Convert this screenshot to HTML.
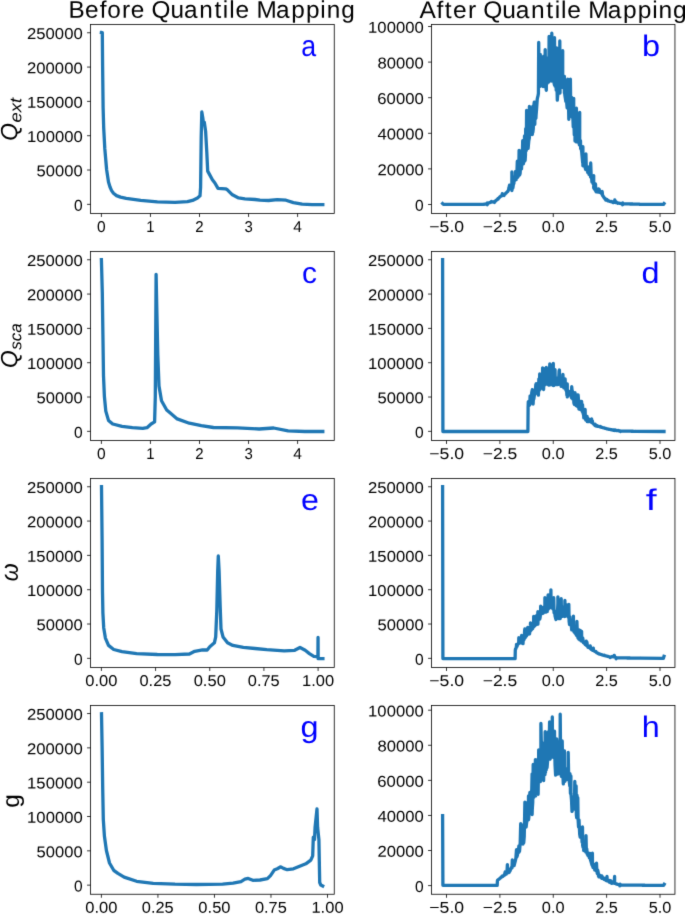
<!DOCTYPE html>
<html><head><meta charset="utf-8"><title>Quantile Mapping</title>
<style>
html,body{margin:0;padding:0;background:#fff;}
body{width:685px;height:914px;overflow:hidden;}
svg{display:block;font-family:"Liberation Sans", sans-serif;will-change:transform;text-rendering:geometricPrecision;}
</style></head>
<body>
<svg width="685" height="914" viewBox="0 0 685 914">
<defs><filter id="soft" filterUnits="userSpaceOnUse" x="0" y="0" width="685" height="914" color-interpolation-filters="sRGB">
<feConvolveMatrix order="3" kernelMatrix="0.0114 0.084 0.0114 0.084 0.619 0.084 0.0114 0.084 0.0114" edgeMode="duplicate"/>
</filter></defs>
<g filter="url(#soft)">
<rect width="685" height="914" fill="#fff"/>
<text transform="translate(0 17.65) scale(1.0129 1) matrix(1 0.0006 0 1 0 0)" font-size="24.02" fill="#000" x="67.66 83.87 98.45 105.78 120.51 129.11 142.74 149.58 168.33 181.69 196.77 211.66 220.02 226.32 232.51 246.14 253.17 272.4 287.58 302.01 316.27 322.66 336.89">Before Quantile Mapping</text>
<text transform="translate(0 17.65) scale(1.0214 1) matrix(1 0.0006 0 1 0 0)" font-size="24.02" fill="#000" x="410.81 427.45 435.49 443.61 458.24 466.45 473.15 491.78 505.02 519.98 534.77 543.07 549.32 555.42 568.99 575.88 594.98 610.03 624.34 638.51 644.82 658.94">After Quantile Mapping</text>
<polyline points="101.4,32.5 102.3,32.6 102.6,65.6 103.1,107.2 103.7,128 104.8,148.7 106.6,169.5 108.5,182 110,187 111.6,190.6 113.5,193.3 116.5,195.6 120.5,197.1 126.2,198.3 140.7,200.3 157.4,201.8 175,202.3 187.5,201.7 192.5,200.4 197.5,197.9 200,195.8 200.6,187.3 201.2,137.4 201.8,112 202.7,117.2 203.5,123.1 204.3,122.2 205.6,131.2 206.8,152.4 207.7,171.1 212.4,179.8 214.9,183 218,188.3 225.5,188.8 227.4,189.8 232.4,194.8 238.6,197.9 244.9,198.8 255,199.5 259.9,200.2 268.6,200.5 277.3,199.6 286,200.2 293.4,202.6 302.1,204.2 312,204.6 322.8,204.6" fill="none" stroke="#1f77b4" stroke-width="3.3" stroke-linejoin="round" stroke-linecap="square"/>
<path d="M87.07 204.35H90.57M87.07 170.03H90.57M87.07 135.71H90.57M87.07 101.39H90.57M87.07 67.07H90.57M87.07 32.75H90.57M101.4 213.45V216.95M150.45 213.45V216.95M199.5 213.45V216.95M248.55 213.45V216.95M297.6 213.45V216.95" stroke="#000" stroke-width="0.8" fill="none"/>
<rect x="90.57" y="24.5" width="243.68" height="188.95" fill="none" stroke="#000" stroke-width="0.8"/>
<text transform="translate(74.05 210.65) scale(0.9904 1) matrix(1 0.0006 0 1 0 0)" font-size="15.70" fill="#000">0</text>
<text transform="translate(36.62 176.33) scale(1.0563 1) matrix(1 0.0006 0 1 0 0)" font-size="15.70" fill="#000">50000</text>
<text transform="translate(27.11 142.01) scale(1.0618 1) matrix(1 0.0006 0 1 0 0)" font-size="15.70" fill="#000">100000</text>
<text transform="translate(27.11 107.69) scale(1.0618 1) matrix(1 0.0006 0 1 0 0)" font-size="15.70" fill="#000">150000</text>
<text transform="translate(27 73.37) scale(1.0639 1) matrix(1 0.0006 0 1 0 0)" font-size="15.70" fill="#000">200000</text>
<text transform="translate(27 39.05) scale(1.0639 1) matrix(1 0.0006 0 1 0 0)" font-size="15.70" fill="#000">250000</text>
<text transform="translate(97.07 231.9) scale(0.9904 1) matrix(1 0.0006 0 1 0 0)" font-size="15.70" fill="#000">0</text>
<text transform="translate(146.25 231.9) scale(0.9459 1) matrix(1 0.0006 0 1 0 0)" font-size="15.70" fill="#000">1</text>
<text transform="translate(195.13 231.9) scale(0.9546 1) matrix(1 0.0006 0 1 0 0)" font-size="15.70" fill="#000">2</text>
<text transform="translate(244.41 231.9) scale(0.9511 1) matrix(1 0.0006 0 1 0 0)" font-size="15.70" fill="#000">3</text>
<text transform="translate(293.27 231.9) scale(0.9905 1) matrix(1 0.0006 0 1 0 0)" font-size="15.70" fill="#000">4</text>
<text transform="translate(301.29 55.9) scale(0.8977 1) matrix(1 0.0006 0 1 0 0)" font-size="29.85" fill="#0000ff">a</text>
<polyline points="442.6,203.6 443.4,204.4 484,204.4 484,204.2 484.43,204.15 484.84,204.09 485.35,204.03 485.9,203.96 486.43,203.9 486.84,203.84 487.2,204.7 487.21,202.9 487.5,203.66 487.96,203.44 488.66,203.11 489.18,202.86 489.58,202.67 490.06,202.44 490.48,202.24 491.13,201.93 491.4,202.1 491.41,201.5 491.71,201.81 492.22,201.83 492.62,201.84 493.08,201.86 493.6,201.87 494.18,201.89 494.4,202.5 494.41,201.3 494.67,201.67 495.28,201.14 495.86,200.65 496.53,200.07 497.01,199.65 497.43,199.29 498,199.1 498.01,198.5 498.07,198.73 498.62,198.2 499.22,197.63 499.79,196.92 500.28,196.79 500.86,196.08 501.4,195.86 502.1,195.13 502.3,193.7 502.31,195.5 502.7,195.26 503.32,194.83 504.03,194.98 504.1,195.5 504.11,194.5 504.51,194.59 505.11,193.99 505.65,193.45 506.08,193.02 506.71,192.39 507.18,191.93 507.7,191.3 507.71,191.5 507.85,191.28 508.39,190.33 509.06,187.48 509.5,185.2 509.51,189 509.73,188.78 510.26,187.84 510.93,186.88 511.37,189.22 511.83,189.4 511.9,172 511.91,190.5 512.37,182.35 512.85,188.03 513.37,184.42 513.94,183.22 514,177 514.55,180.41 515.14,180.3 515.54,171.39 516.11,179.6 516.19,176.65 516.84,175.22 517.3,161.2 517.35,177.49 517.95,176.9 518.35,175.46 518.79,171.76 519.1,150.3 519.19,175.47 519.63,174.27 519.71,174.8 520.13,173.21 520.81,161.86 521,151 521.24,168.39 521.51,168.8 521.74,163.92 522.17,162.29 522.7,140.7 522.88,158.11 523.42,163.76 523.84,158.72 524.32,156.89 524.5,136 524.75,161.14 525.11,160.4 525.45,155.18 525.7,128.7 525.89,145.05 526.28,150.52 526.6,110.3 526.99,118.79 527.6,147.6 528.11,145.99 528.11,148.3 528.75,141 529.39,137.7 529.4,106.5 529.85,135.24 530.56,114.09 531.21,131.62 531.84,133.27 532.31,134.5 532.4,131.66 532.7,106.5 532.79,132.42 533.27,128.89 533.88,104.96 534.3,102.1 534.41,120.27 534.81,124.3 535.12,102.41 535.63,118.62 535.91,118.2 536.09,114.98 536.54,109.5 537.22,99.36 537.6,97.2 537.77,97.08 538.11,95.2 538.42,93.37 538.7,42.5 539.02,81.27 539.66,64.47 540.21,86.31 540.3,54.5 540.85,80.29 540.91,85.4 541.5,78.27 542.02,78.86 542.71,80.77 543.11,86.5 543.15,85.44 543.59,80.09 543.6,56.2 544.24,86.27 544.9,79.37 545.2,49.6 545.5,82.23 546.07,88.85 546.31,90.3 546.46,58 546.9,58.9 547.05,83.52 547.75,75.8 548.42,74.35 548.51,82.1 548.88,77.2 549.1,36.5 549.36,79.02 549.94,76.22 550.46,79.81 551.14,72.14 551.31,81 551.68,74.24 551.8,33.2 552.36,69.74 553.05,76.17 553.61,65.96 554,77.57 554.01,82.6 554.45,84.97 554.5,37.6 555.1,86.35 555.64,62.4 556.21,90.34 556.7,48 556.76,77.97 557.31,100.1 557.41,98.4 557.98,92.58 558.45,86.82 559.01,74.59 559.64,81.93 559.8,40.9 560.01,93 560.17,69.61 560.72,85.47 561.34,77.89 561.9,84.28 562.59,66.67 562.7,50.7 562.71,87.6 563.27,82.32 563.74,81.23 564.4,76.4 564.41,93 564.44,89.69 564.87,95.14 565.4,98.57 565.86,101.37 566.47,100.03 567.15,107.88 567.7,79.2 567.77,107.54 568.2,85.8 568.81,119.3 568.91,117.03 569.61,109.68 570.15,108.68 570.4,79.2 570.81,116.19 571.34,114.59 571.5,97.2 571.84,115.75 572.01,117.1 572.33,115.72 572.72,113.11 573.25,126.95 573.7,98.3 573.74,115.72 574.3,134.91 575.01,115.12 575.01,141.1 575.71,140.75 576.18,141.89 576.4,108.2 576.83,140.34 577.25,134.51 577.94,136.73 578.41,142.37 579.1,139.85 579.31,144.7 579.7,112.5 579.71,145.25 580.12,143.73 580.5,140.7 580.64,148.62 581.34,149.54 581.71,151.9 581.99,155.03 582.66,162.69 582.9,146.7 582.91,165.8 583.33,161.11 583.82,164.56 584.51,165.9 584.94,166.37 585.4,168.76 585.84,169.64 585.9,153.9 586.29,168.01 586.78,168.18 587.26,166.74 587.7,171.1 587.71,172.4 588.1,171.64 588.49,171.37 589.05,174.4 589.59,173.03 590.01,166.07 590.54,176.89 590.7,163 591.2,176.97 591.75,179.22 591.91,182 592.46,181.45 593.12,183.8 593.7,175.6 593.71,188 593.72,185.12 594.22,188.65 594.65,189.32 595.28,189.95 595.5,184 595.71,190.98 596.11,191.7 596.38,190.38 596.98,191.19 597.45,191.68 597.98,191.95 598.5,188.8 598.52,192.07 599.22,189.44 599.78,192.44 600.49,192.4 600.91,192.9 600.99,193.04 601.5,192.92 602.05,194.46 602.1,191.3 602.6,195.46 603.08,196.13 603.59,196.94 603.9,197.3 603.99,197.52 604.45,198 605.01,198.88 605.61,199.12 605.71,200.1 606.28,200.17 606.78,199.38 607.21,200.43 607.81,200.79 608.1,200.3 608.47,200.88 609.06,200.85 609.71,201.4 610.27,201.41 610.93,201.7 611.59,201.79 611.7,201.5 612.27,202.08 612.88,202.31 613.01,202.5 613.28,202.45 613.78,202.48 614.44,202.23 614.8,199.9 615.04,201.45 615.65,202.42 616.03,201.71 616.66,202.61 617.23,202.68 617.63,202.93 617.8,203.3 618.1,203.08 618.57,203.16 619.03,203.24 619.73,203.36 620.24,203.45 620.85,203.55 621.44,203.65 621.85,203.72 622.32,203.8 622.6,204.7 622.61,203 622.81,203.85 623.2,203.86 623.67,203.87 624.28,203.88 624.77,203.89 625.3,203.9 625.73,203.9 626.18,203.91 626.87,203.92 627.41,203.93 628.11,203.95 628.59,203.95 629.28,203.97 629.86,203.98 630.42,203.98 630.85,203.99 631.4,204 632.02,204.01 632.7,204.02 633.09,204.03 633.64,204.04 634.12,204.05 634.62,204.06 635.28,204.07 635.92,204.08 636.34,204.09 636.96,204.1 637.44,204.11 637.96,204.11 638.54,204.12 639.06,204.13 639.46,204.14 640,204.4 663.4,204.4 664,203.6" fill="none" stroke="#1f77b4" stroke-width="3.3" stroke-linejoin="round" stroke-linecap="square"/>
<path d="M428.07 204.5H431.57M428.07 168.9H431.57M428.07 133.3H431.57M428.07 97.7H431.57M428.07 62.1H431.57M428.07 26.5H431.57M446.5 213.45V216.95M499.88 213.45V216.95M553.25 213.45V216.95M606.62 213.45V216.95M660 213.45V216.95" stroke="#000" stroke-width="0.8" fill="none"/>
<rect x="431.57" y="24.5" width="243.38" height="188.95" fill="none" stroke="#000" stroke-width="0.8"/>
<text transform="translate(415.05 210.8) scale(0.9904 1) matrix(1 0.0006 0 1 0 0)" font-size="15.70" fill="#000">0</text>
<text transform="translate(377.39 175.2) scale(1.0617 1) matrix(1 0.0006 0 1 0 0)" font-size="15.70" fill="#000">20000</text>
<text transform="translate(377.49 139.6) scale(1.0595 1) matrix(1 0.0006 0 1 0 0)" font-size="15.70" fill="#000">40000</text>
<text transform="translate(377.33 104) scale(1.0631 1) matrix(1 0.0006 0 1 0 0)" font-size="15.70" fill="#000">60000</text>
<text transform="translate(377.43 68.4) scale(1.0609 1) matrix(1 0.0006 0 1 0 0)" font-size="15.70" fill="#000">80000</text>
<text transform="translate(368.11 32.8) scale(1.0618 1) matrix(1 0.0006 0 1 0 0)" font-size="15.70" fill="#000">100000</text>
<text transform="translate(429.28 231.9) scale(1.1239 1) matrix(1 0.0006 0 1 0 0)" font-size="15.70" fill="#000">−5.0</text>
<text transform="translate(482.67 231.9) scale(1.1152 1) matrix(1 0.0006 0 1 0 0)" font-size="15.70" fill="#000">−2.5</text>
<text transform="translate(541.85 231.9) scale(1.0440 1) matrix(1 0.0006 0 1 0 0)" font-size="15.70" fill="#000">0.0</text>
<text transform="translate(595.16 231.9) scale(1.0349 1) matrix(1 0.0006 0 1 0 0)" font-size="15.70" fill="#000">2.5</text>
<text transform="translate(648.76 231.9) scale(1.0368 1) matrix(1 0.0006 0 1 0 0)" font-size="15.70" fill="#000">5.0</text>
<text transform="translate(641.93 55.9) scale(1.0861 1) matrix(1 0.0006 0 1 0 0)" font-size="29.85" fill="#0000ff">b</text>
<polyline points="101.4,259.7 102.3,292.6 102.9,334.2 103.5,375.7 104.4,396.5 105.8,411.1 108.5,420.4 112.7,424 122,426.3 132.4,427.7 142.8,428.3 147,427.7 151.1,424 154.6,421.9 155.3,396.5 155.7,334.2 156.1,274.3 156.9,313.4 157.8,355 159,386.1 161.5,400.7 166.7,410 170,412.8 177.2,418.9 189.3,423.2 201.3,425.6 213.4,427.5 237.5,427.8 259.2,429 273.6,428 288.1,430.9 304.9,431.5 322.8,431.5" fill="none" stroke="#1f77b4" stroke-width="3.3" stroke-linejoin="round" stroke-linecap="square"/>
<path d="M87.07 431.35H90.57M87.07 397.03H90.57M87.07 362.71H90.57M87.07 328.39H90.57M87.07 294.07H90.57M87.07 259.75H90.57M101.4 440.45V443.95M150.45 440.45V443.95M199.5 440.45V443.95M248.55 440.45V443.95M297.6 440.45V443.95" stroke="#000" stroke-width="0.8" fill="none"/>
<rect x="90.57" y="251.5" width="243.68" height="188.95" fill="none" stroke="#000" stroke-width="0.8"/>
<text transform="translate(74.05 437.65) scale(0.9904 1) matrix(1 0.0006 0 1 0 0)" font-size="15.70" fill="#000">0</text>
<text transform="translate(36.62 403.33) scale(1.0563 1) matrix(1 0.0006 0 1 0 0)" font-size="15.70" fill="#000">50000</text>
<text transform="translate(27.11 369.01) scale(1.0618 1) matrix(1 0.0006 0 1 0 0)" font-size="15.70" fill="#000">100000</text>
<text transform="translate(27.11 334.69) scale(1.0618 1) matrix(1 0.0006 0 1 0 0)" font-size="15.70" fill="#000">150000</text>
<text transform="translate(27 300.37) scale(1.0639 1) matrix(1 0.0006 0 1 0 0)" font-size="15.70" fill="#000">200000</text>
<text transform="translate(27 266.05) scale(1.0639 1) matrix(1 0.0006 0 1 0 0)" font-size="15.70" fill="#000">250000</text>
<text transform="translate(97.07 458.9) scale(0.9904 1) matrix(1 0.0006 0 1 0 0)" font-size="15.70" fill="#000">0</text>
<text transform="translate(146.25 458.9) scale(0.9459 1) matrix(1 0.0006 0 1 0 0)" font-size="15.70" fill="#000">1</text>
<text transform="translate(195.13 458.9) scale(0.9546 1) matrix(1 0.0006 0 1 0 0)" font-size="15.70" fill="#000">2</text>
<text transform="translate(244.41 458.9) scale(0.9511 1) matrix(1 0.0006 0 1 0 0)" font-size="15.70" fill="#000">3</text>
<text transform="translate(293.27 458.9) scale(0.9905 1) matrix(1 0.0006 0 1 0 0)" font-size="15.70" fill="#000">4</text>
<text transform="translate(301.95 282.9) scale(1.0017 1) matrix(1 0.0006 0 1 0 0)" font-size="29.85" fill="#0000ff">c</text>
<polyline points="442.6,259.7 442.9,431.5 527.9,431.5 528.1,409 528.1,407.6 528.3,401.6 528.79,405.85 529.27,403.45 529.71,404.95 530.1,395.9 530.41,396.87 531.07,403.18 531.75,392.49 532.3,389.7 532.32,401.75 532.72,394.99 533.11,404 533.26,400.45 533.85,398.77 534.25,395.94 534.68,393.54 535.18,393.83 535.81,384.49 535.81,391.7 536.2,383.6 536.28,390.88 536.76,388.7 537.28,393.14 537.72,393.08 538.4,393.01 538.41,395.2 538.86,378.88 539.57,390.05 539.7,374 540,389.63 540.42,388.29 540.83,386.92 541.01,388.2 541.3,385.82 541.98,376.35 542.5,386.78 542.6,367.8 543.06,384.72 543.56,389.14 543.61,389.5 544.03,368.72 544.46,385.16 545.05,371.51 545.51,384.25 545.98,380.55 546.3,367.4 546.31,383.8 546.51,379.92 547.17,369.99 547.57,384.29 548.19,368.62 548.73,382.07 548.91,385.1 549.11,380.54 549.8,363.9 549.8,380.81 550.47,364.75 550.94,384.74 551.37,377.7 551.98,380.3 552.61,374.54 553.24,383.06 553.3,363.4 553.31,385.6 553.81,385.38 554.45,384.33 555,369.6 555.14,377.47 555.63,384.63 556.1,377.59 556.71,384.48 557.12,379.47 557.7,383.26 557.71,384.7 558.16,378.26 558.54,383.96 559.08,370.97 559.4,370 559.68,382.28 560.22,384.46 560.69,382.66 561.21,386.4 561.3,384.32 561.7,384.93 562.3,383.63 562.77,385.03 562.9,374.4 563.46,386.41 563.81,387.7 563.86,386.88 564.38,382.79 564.83,388 565.1,378.8 565.46,387.91 565.92,390.22 566.4,385.33 566.87,395.05 567.3,384 567.31,396.9 567.5,394.68 568.2,393.49 568.65,392.88 569.11,392.6 569.17,391.49 569.87,393.92 570.38,394.98 571.09,396.6 571.49,397.81 571.7,386.7 572.01,390.15 572.6,391.9 572.68,399.06 573.4,393.22 573.89,402.86 574.31,404.3 574.58,397.01 574.98,402.93 575,392.6 575.49,402.91 575.98,405.48 576.37,404.74 576.87,403.82 577.3,394.97 577.75,406.64 578.1,394.8 578.41,398.91 578.91,409 578.93,408.86 579.48,406.87 580.16,409.2 580.67,401.3 581.06,409.24 581.6,401.4 581.72,404.77 582.01,410.8 582.12,411.17 582.52,404.65 582.99,412.76 583.67,415.31 583.81,417.8 584.15,415.54 584.74,417.63 585.1,409.3 585.36,418.79 585.83,420.06 586.47,419.19 587.06,416.36 587.31,421.7 587.45,421.47 587.7,418 588,418.33 588.7,421.68 589.16,421.17 589.71,421.41 590.16,419.71 590.79,421.78 591.43,420.99 591.6,418.9 591.92,422.58 592.42,421.07 592.51,423 592.83,423.22 593.47,423.76 593.87,424.41 594.44,424.72 595.1,424.2 595.11,425.7 595.15,425.38 595.86,425.74 596.27,425.99 596.82,425.45 597.36,426.25 597.88,425.95 598.49,426.44 599.15,426.33 599.58,426.74 600.06,426.74 600.4,426.4 600.57,427.06 601.02,427.25 601.31,427.4 601.48,427.42 602.16,427.38 602.65,427.69 603.36,427.77 603.83,427.97 604.43,427.86 604.85,428.28 605.5,428.3 606.19,428.66 606.5,428.6 606.67,428.78 607.12,428.85 607.69,428.81 608.2,429.11 608.31,429.2 608.74,429.25 609.38,429.34 609.8,429.34 610.39,429.62 610.89,429.73 611.35,429.82 611.93,429.7 612.38,430.07 612.87,429.86 613.32,430.22 613.77,429.92 614.34,430.48 614.41,430.5 614.76,430.36 614.9,429.9 615.32,430.42 615.74,430.48 616.35,430.48 616.83,430.5 617.53,430.6 618.1,430.69 618.62,430.77 618.81,430.5 619.34,430.87 619.79,430.94 620.24,431.01 620.5,431.6 620.92,431.06 621.58,431.07 622.26,431.08 622.69,431.09 623.26,431.1 623.95,431.11 624.54,431.12 625.09,431.13 625.57,431.14 626.26,431.15 626.8,431.16 627.51,431.17 627.93,431.18 628.64,431.19 629.04,431.2 629.56,431.21 630.15,431.22 630.58,431.22 631.04,431.23 631.71,431.24 632.15,431.25 632.67,431.26 633.18,431.27 633.65,431.28 634.33,431.29 634.9,431.3 635,431.4 664,431.5" fill="none" stroke="#1f77b4" stroke-width="3.3" stroke-linejoin="round" stroke-linecap="square"/>
<path d="M428.07 431.35H431.57M428.07 397.03H431.57M428.07 362.71H431.57M428.07 328.39H431.57M428.07 294.07H431.57M428.07 259.75H431.57M446.5 440.45V443.95M499.88 440.45V443.95M553.25 440.45V443.95M606.62 440.45V443.95M660 440.45V443.95" stroke="#000" stroke-width="0.8" fill="none"/>
<rect x="431.57" y="251.5" width="243.38" height="188.95" fill="none" stroke="#000" stroke-width="0.8"/>
<text transform="translate(415.05 437.65) scale(0.9904 1) matrix(1 0.0006 0 1 0 0)" font-size="15.70" fill="#000">0</text>
<text transform="translate(377.62 403.33) scale(1.0563 1) matrix(1 0.0006 0 1 0 0)" font-size="15.70" fill="#000">50000</text>
<text transform="translate(368.11 369.01) scale(1.0618 1) matrix(1 0.0006 0 1 0 0)" font-size="15.70" fill="#000">100000</text>
<text transform="translate(368.11 334.69) scale(1.0618 1) matrix(1 0.0006 0 1 0 0)" font-size="15.70" fill="#000">150000</text>
<text transform="translate(368 300.37) scale(1.0639 1) matrix(1 0.0006 0 1 0 0)" font-size="15.70" fill="#000">200000</text>
<text transform="translate(368 266.05) scale(1.0639 1) matrix(1 0.0006 0 1 0 0)" font-size="15.70" fill="#000">250000</text>
<text transform="translate(429.28 458.9) scale(1.1239 1) matrix(1 0.0006 0 1 0 0)" font-size="15.70" fill="#000">−5.0</text>
<text transform="translate(482.67 458.9) scale(1.1152 1) matrix(1 0.0006 0 1 0 0)" font-size="15.70" fill="#000">−2.5</text>
<text transform="translate(541.85 458.9) scale(1.0440 1) matrix(1 0.0006 0 1 0 0)" font-size="15.70" fill="#000">0.0</text>
<text transform="translate(595.16 458.9) scale(1.0349 1) matrix(1 0.0006 0 1 0 0)" font-size="15.70" fill="#000">2.5</text>
<text transform="translate(648.76 458.9) scale(1.0368 1) matrix(1 0.0006 0 1 0 0)" font-size="15.70" fill="#000">5.0</text>
<text transform="translate(641.6 282.9) scale(1.0850 1) matrix(1 0.0006 0 1 0 0)" font-size="29.85" fill="#0000ff">d</text>
<polyline points="101.5,486.7 102.1,540.4 102.5,592.3 102.9,613.1 103.7,627.7 105.4,638.1 108.5,645.4 113.7,649.5 122,651.6 136.6,653.7 157.3,654.5 175,654.6 189.4,654 194.7,651.3 202.6,649.8 207.2,650 209.8,646.7 214.4,642.8 215.7,636.9 216.8,610.6 217.7,571.3 218.3,556 219.1,571.3 220.1,604.1 221,629 223,636.9 227.5,642.8 232.8,645.4 243.3,647.4 255,648.5 266.7,649.7 284.2,650.8 294.7,650.3 300,647.5 305.2,650.3 309.4,653.6 313.8,656.3 316.8,656.7 317.9,656.9 318.05,637.4 318.15,658.7 322.9,658.7" fill="none" stroke="#1f77b4" stroke-width="3.3" stroke-linejoin="round" stroke-linecap="square"/>
<path d="M87.07 658.35H90.57M87.07 624.03H90.57M87.07 589.71H90.57M87.07 555.39H90.57M87.07 521.07H90.57M87.07 486.75H90.57M101.4 667.45V670.95M155.57 667.45V670.95M209.75 667.45V670.95M263.92 667.45V670.95M318.1 667.45V670.95" stroke="#000" stroke-width="0.8" fill="none"/>
<rect x="90.57" y="478.5" width="243.68" height="188.95" fill="none" stroke="#000" stroke-width="0.8"/>
<text transform="translate(74.05 664.65) scale(0.9904 1) matrix(1 0.0006 0 1 0 0)" font-size="15.70" fill="#000">0</text>
<text transform="translate(36.62 630.33) scale(1.0563 1) matrix(1 0.0006 0 1 0 0)" font-size="15.70" fill="#000">50000</text>
<text transform="translate(27.11 596.01) scale(1.0618 1) matrix(1 0.0006 0 1 0 0)" font-size="15.70" fill="#000">100000</text>
<text transform="translate(27.11 561.69) scale(1.0618 1) matrix(1 0.0006 0 1 0 0)" font-size="15.70" fill="#000">150000</text>
<text transform="translate(27 527.37) scale(1.0639 1) matrix(1 0.0006 0 1 0 0)" font-size="15.70" fill="#000">200000</text>
<text transform="translate(27 493.05) scale(1.0639 1) matrix(1 0.0006 0 1 0 0)" font-size="15.70" fill="#000">250000</text>
<text transform="translate(85.31 685.9) scale(1.0532 1) matrix(1 0.0006 0 1 0 0)" font-size="15.70" fill="#000">0.00</text>
<text transform="translate(139.49 685.9) scale(1.0443 1) matrix(1 0.0006 0 1 0 0)" font-size="15.70" fill="#000">0.25</text>
<text transform="translate(193.66 685.9) scale(1.0532 1) matrix(1 0.0006 0 1 0 0)" font-size="15.70" fill="#000">0.50</text>
<text transform="translate(247.84 685.9) scale(1.0443 1) matrix(1 0.0006 0 1 0 0)" font-size="15.70" fill="#000">0.75</text>
<text transform="translate(302.04 685.9) scale(1.0520 1) matrix(1 0.0006 0 1 0 0)" font-size="15.70" fill="#000">1.00</text>
<text transform="translate(300.88 509.9) scale(1.0783 1) matrix(1 0.0006 0 1 0 0)" font-size="29.85" fill="#0000ff">e</text>
<polyline points="442.6,486.7 442.9,658.6 515.1,658.6 515.3,650 515.5,649.08 515.92,648.58 516.49,646.15 516.5,644.3 516.98,646.42 517.55,644.57 518.16,643.97 518.69,643.48 518.8,637.7 519.27,641.73 519.31,642.3 519.74,638.87 520.38,641.99 520.82,640.81 521.24,642.8 521.6,635.4 521.77,643.06 522.3,642.23 522.7,638.56 523.01,643.7 523.11,641.39 523.75,638.09 524.16,639.34 524.67,630.13 524.9,628.9 525.1,636.14 525.31,637.6 525.81,631.86 526.46,636.16 527.17,633.32 527.7,627.5 527.87,633.47 528.31,629.17 529.01,634.19 529.51,627.91 529.51,633.9 529.94,631.06 530.42,625.63 530.5,622.9 530.85,630.46 531.54,629.71 532.01,628.46 532.5,628.84 532.95,627.74 533.64,621.29 533.7,616.3 533.71,626.9 534.32,626.03 534.97,625.71 535.53,623.87 536.03,616.01 536.6,623.25 537.28,624.19 537.9,611.7 537.91,624.1 537.99,621.92 538.5,614.13 538.98,618.33 539.55,617.47 539.81,619 540.19,617 540.63,610.43 540.7,606.1 541.03,614.26 541.5,610.17 542.21,612.55 542.61,613.4 542.81,611.53 543.2,613.06 543.63,607.11 544.16,611.04 544.84,611.95 544.9,597.7 545.3,609.9 545.7,612.19 546.2,611.58 546.7,610.37 547.21,611.6 547.28,609.15 547.73,603.47 548.1,595 548.27,609.29 548.97,607.04 549.4,607.54 550,594.53 550.01,606.9 550.64,605.62 550.9,589.8 551.11,607.64 551.71,605.81 552.21,601 552.74,605.53 552.81,608.8 553.37,609.2 553.7,597.7 554.05,612.81 554.61,610.76 555.08,616.13 555.72,618.54 556.01,619.5 556.28,614.19 556.72,617.64 557.3,616.37 557.9,603.06 557.9,596.8 558.34,617.25 558.82,618.66 559.5,614.57 560.12,618.51 560.21,618.5 560.79,614.37 561.2,598.7 561.33,605.91 561.86,616.11 562.28,615.09 562.68,615.03 563.01,616.2 563.31,607.02 563.97,613.47 564.45,610.17 564.71,616.5 564.9,600.5 564.98,613.39 565.53,614.77 566.13,613.09 566.59,604.88 566.98,615.9 567.44,608.26 568.14,614.52 568.21,617 568.63,607.05 568.8,604.4 569.12,621.37 569.51,624.6 569.81,616.55 570.42,623.78 571.13,623.1 571.71,629.9 571.79,626.86 572.46,626.15 573.08,629 573.4,616.1 573.57,630.48 574.16,632.07 574.85,632.38 575.21,633.4 575.24,633.08 575.93,631.94 576.36,635.22 576.76,627.77 576.9,621.4 577.36,634.43 577.99,637.83 578.56,637.7 578.71,639.2 579.22,629.91 579.9,639.89 580.57,630.66 581.27,640.83 581.6,631.3 581.72,641.15 582.12,639.76 582.77,638.14 583.41,642.7 583.43,641.53 583.91,643.04 584.32,642.39 584.78,643.12 585.3,644.61 585.77,644.46 586.3,641.2 586.39,645.35 586.88,642.04 587.43,645.87 588.01,647.4 588.02,647.4 588.54,647.27 589.18,647.39 589.8,648 590.26,645.93 590.67,648.34 591.11,649.32 591.57,649 592.27,650.04 592.71,650.3 592.82,650.05 593.3,648.2 593.47,650.6 594.02,650.91 594.68,651.27 595.37,651.8 595.83,651.39 596.38,652.49 596.97,652.86 597.62,653.15 598.26,653.47 598.5,653.5 598.51,653.8 598.77,653.85 599.28,653.79 599.69,654.1 600.09,654.26 600.56,654.36 601.11,654.53 601.79,654.79 602.32,654.86 602.96,655.1 603.56,655.29 604.05,655.48 604.4,655.3 604.41,655.6 604.71,655.53 605.34,655.76 605.87,655.87 606.45,656.03 606.98,656.18 607.45,656.32 607.93,656.45 608.6,656.64 609.03,656.77 609.53,656.91 609.96,657.03 610.2,657.6 610.41,657.06 611.04,656.93 611.41,656.8 611.74,656.8 612.25,656.46 612.9,656.69 613.43,656.76 614.02,656.81 614.3,655.3 614.48,656.59 614.87,656.82 615.52,657.27 616.07,657.81 616.1,658.8 616.61,657.85 617.19,657.86 617.82,657.86 618.35,657.87 618.98,657.88 619.44,657.88 620.11,657.89 620.73,657.9 621.34,657.91 621.87,657.92 622.47,657.92 622.99,657.93 623.61,657.94 624.08,657.94 624.61,657.95 625.13,657.96 625.83,657.97 626.43,657.97 626.94,657.98 627.65,657.99 628.21,658 628.85,658.01 629.41,658.01 629.98,658.02 630.61,658.03 631.2,658.04 631.76,658.04 632.46,658.05 633.07,658.06 633.7,658.07 634.41,658.08 634.82,658.08 635.34,658.09 635.86,658.1 636.47,658.1 636.95,658.11 637.58,658.12 638.14,658.13 638.78,658.13 639.24,658.14 639.88,658.15 640,658.2 663.4,658.3 664,656.3" fill="none" stroke="#1f77b4" stroke-width="3.3" stroke-linejoin="round" stroke-linecap="square"/>
<path d="M428.07 658.35H431.57M428.07 624.03H431.57M428.07 589.71H431.57M428.07 555.39H431.57M428.07 521.07H431.57M428.07 486.75H431.57M446.5 667.45V670.95M499.88 667.45V670.95M553.25 667.45V670.95M606.62 667.45V670.95M660 667.45V670.95" stroke="#000" stroke-width="0.8" fill="none"/>
<rect x="431.57" y="478.5" width="243.38" height="188.95" fill="none" stroke="#000" stroke-width="0.8"/>
<text transform="translate(415.05 664.65) scale(0.9904 1) matrix(1 0.0006 0 1 0 0)" font-size="15.70" fill="#000">0</text>
<text transform="translate(377.62 630.33) scale(1.0563 1) matrix(1 0.0006 0 1 0 0)" font-size="15.70" fill="#000">50000</text>
<text transform="translate(368.11 596.01) scale(1.0618 1) matrix(1 0.0006 0 1 0 0)" font-size="15.70" fill="#000">100000</text>
<text transform="translate(368.11 561.69) scale(1.0618 1) matrix(1 0.0006 0 1 0 0)" font-size="15.70" fill="#000">150000</text>
<text transform="translate(368 527.37) scale(1.0639 1) matrix(1 0.0006 0 1 0 0)" font-size="15.70" fill="#000">200000</text>
<text transform="translate(368 493.05) scale(1.0639 1) matrix(1 0.0006 0 1 0 0)" font-size="15.70" fill="#000">250000</text>
<text transform="translate(429.28 685.9) scale(1.1239 1) matrix(1 0.0006 0 1 0 0)" font-size="15.70" fill="#000">−5.0</text>
<text transform="translate(482.67 685.9) scale(1.1152 1) matrix(1 0.0006 0 1 0 0)" font-size="15.70" fill="#000">−2.5</text>
<text transform="translate(541.85 685.9) scale(1.0440 1) matrix(1 0.0006 0 1 0 0)" font-size="15.70" fill="#000">0.0</text>
<text transform="translate(595.16 685.9) scale(1.0349 1) matrix(1 0.0006 0 1 0 0)" font-size="15.70" fill="#000">2.5</text>
<text transform="translate(648.76 685.9) scale(1.0368 1) matrix(1 0.0006 0 1 0 0)" font-size="15.70" fill="#000">5.0</text>
<text transform="translate(645.65 509.9) scale(1.3109 1) matrix(1 0.0006 0 1 0 0)" font-size="29.85" fill="#0000ff">f</text>
<polyline points="101.5,713.8 102.1,746.6 102.7,788.2 103.3,819.3 104.4,836 106.4,850.5 109.5,863 113.7,870.3 117.9,873.4 124.1,877.1 136.6,881.3 153.2,883.4 175,884.2 196.3,884.5 222.6,884.2 233.1,883.2 241,881.6 244.9,879.2 248.2,878.4 252.8,880.3 260,880 267.4,878.7 270.5,875.6 274.2,870.1 277.3,868.8 280.8,866.8 283.5,868.4 287.2,869.7 293.4,868.8 300.9,865.7 305.8,863.8 310.8,860.1 312.7,855.8 313.3,837.2 314.5,839.6 315.1,827.2 317,809 317.6,827.2 318.9,839.6 319.7,882.5 320.8,885 322.7,886" fill="none" stroke="#1f77b4" stroke-width="3.3" stroke-linejoin="round" stroke-linecap="square"/>
<path d="M87.07 885.15H90.57M87.07 850.83H90.57M87.07 816.51H90.57M87.07 782.19H90.57M87.07 747.87H90.57M87.07 713.55H90.57M101.4 894.25V897.75M157.93 894.25V897.75M214.45 894.25V897.75M270.98 894.25V897.75M327.5 894.25V897.75" stroke="#000" stroke-width="0.8" fill="none"/>
<rect x="90.57" y="705.5" width="243.68" height="188.75" fill="none" stroke="#000" stroke-width="0.8"/>
<text transform="translate(74.05 891.45) scale(0.9904 1) matrix(1 0.0006 0 1 0 0)" font-size="15.70" fill="#000">0</text>
<text transform="translate(36.62 857.13) scale(1.0563 1) matrix(1 0.0006 0 1 0 0)" font-size="15.70" fill="#000">50000</text>
<text transform="translate(27.11 822.81) scale(1.0618 1) matrix(1 0.0006 0 1 0 0)" font-size="15.70" fill="#000">100000</text>
<text transform="translate(27.11 788.49) scale(1.0618 1) matrix(1 0.0006 0 1 0 0)" font-size="15.70" fill="#000">150000</text>
<text transform="translate(27 754.17) scale(1.0639 1) matrix(1 0.0006 0 1 0 0)" font-size="15.70" fill="#000">200000</text>
<text transform="translate(27 719.85) scale(1.0639 1) matrix(1 0.0006 0 1 0 0)" font-size="15.70" fill="#000">250000</text>
<text transform="translate(85.31 912.7) scale(1.0532 1) matrix(1 0.0006 0 1 0 0)" font-size="15.70" fill="#000">0.00</text>
<text transform="translate(141.84 912.7) scale(1.0443 1) matrix(1 0.0006 0 1 0 0)" font-size="15.70" fill="#000">0.25</text>
<text transform="translate(198.36 912.7) scale(1.0532 1) matrix(1 0.0006 0 1 0 0)" font-size="15.70" fill="#000">0.50</text>
<text transform="translate(254.89 912.7) scale(1.0443 1) matrix(1 0.0006 0 1 0 0)" font-size="15.70" fill="#000">0.75</text>
<text transform="translate(311.44 912.7) scale(1.0520 1) matrix(1 0.0006 0 1 0 0)" font-size="15.70" fill="#000">1.00</text>
<text transform="translate(300.6 736.9) scale(1.0850 1) matrix(1 0.0006 0 1 0 0)" font-size="29.85" fill="#0000ff">g</text>
<polyline points="442.6,815.6 442.9,885.3 497.2,885.3 497.4,881 497.6,880.35 498.17,879.85 498.87,879.24 499.47,878.72 500.12,878.2 500.61,877.87 501.03,877.24 501.53,877.13 502,876.1 502.01,876.77 502.48,876.47 502.92,876.32 503.55,875.67 504.01,875.02 504.41,875.3 504.55,874.72 505.15,872.04 505.65,873.08 506.32,874.03 506.98,871.83 507.4,864.6 507.62,872.9 508.28,871.43 508.67,872.62 509.21,872.3 509.37,870.52 509.84,871.19 510.27,870.31 510.91,868.34 511.35,867.41 511.99,868 512.3,859.8 512.67,866.23 513.32,861.77 514,863.76 514.11,865.6 514.66,863.32 515.27,861.08 515.9,858.08 516.5,849.6 516.58,857.44 517.05,856.38 517.48,854.73 517.89,851.01 518.32,852.08 518.87,845.97 518.91,852.4 519.54,851.09 520.2,842.97 520.7,823.7 520.77,844.45 521.43,841.63 521.96,839.31 522.37,830.72 522.96,844.05 523.55,824.62 523.71,842.8 524.24,836.48 524.9,802.1 524.95,823.54 525.49,824.61 525.5,802.3 525.89,812.58 526.11,827.1 526.48,823.78 527.15,818.92 527.69,819.09 528.33,818.42 528.5,796 528.51,819.9 528.86,816.8 529.43,800.15 529.9,792.4 529.91,812.52 530.43,807.31 530.9,812.2 531.61,796.31 532.1,773.8 532.11,814.5 532.25,809.65 532.74,802.48 533.2,764.5 533.32,796.57 533.91,797.1 533.97,796.86 534.59,788.84 535.16,795.97 535.4,759.6 535.64,795.88 536.09,762.23 536.67,788.76 537.32,759.64 537.91,787.91 538.11,794.3 538.5,768.7 538.7,749.8 539.08,781.3 539.53,761.89 540.07,773.56 540.31,781.7 540.49,778.17 540.89,770.31 540.9,723.5 541.57,755.08 542.08,771.53 542.72,764.87 543,743.2 543.19,777.82 543.61,780.6 543.72,773.6 544.25,771.35 544.94,774.75 545.2,731.7 545.51,772.43 545.93,745.49 546.31,769.6 546.51,761.9 546.9,739.9 547.04,767.49 547.55,761.57 548.25,731.92 548.79,758.99 549.21,743.16 549.6,721.9 549.66,758.74 550.06,759.1 550.21,758.7 550.67,756.78 551.37,756.01 552.04,754.46 552.3,716.9 552.43,733.04 552.9,748.16 552.91,754.3 553.34,757.44 553.98,756.45 554.5,731.2 554.65,746.01 555.06,765.03 555.61,775.1 555.68,763.56 556.38,772.43 556.7,738.8 557.08,751.95 557.47,774.18 558.07,741.57 558.48,770.22 559.11,770.74 559.51,773.5 559.77,767.31 560.18,763.06 560.2,714.2 560.75,770.86 561.36,776.38 562.01,776.56 562.2,741 562.61,763.32 563.13,779.75 563.31,783.9 563.78,751.14 564.4,750.9 564.42,777.94 564.9,781.42 565.61,775.65 566.27,775.1 566.61,779.5 566.85,773.15 567.51,768.46 568,779.17 568.2,752.5 568.67,778.09 569.29,781.56 569.81,786.1 569.97,773.71 570.44,793.51 570.9,776 570.92,793.17 571.5,799.73 572.01,811.4 572.17,810.89 572.83,803.61 573.5,796.88 573.98,802.08 574.31,807.4 574.63,793.8 574.8,781.5 575.32,809.37 575.73,802.42 576.1,786 576.38,815.06 576.71,817.9 577.01,795.2 577.47,818.09 577.8,797.7 578.08,818.85 578.54,826.91 579,819.9 579.17,823.73 579.7,834.1 580.21,837.1 580.36,827.72 580.82,837.17 581.5,827.95 582.06,842.08 582.5,826.9 582.64,845.15 583.08,847.33 583.7,846.51 583.71,850.6 584.27,849.17 584.83,850.82 585.23,847.53 585.74,852.15 586,835.6 586.33,850.37 586.77,848.92 587.21,854.1 587.26,853.38 587.66,855.14 587.8,852.6 588.37,855.91 588.91,855.91 589.38,857.91 589.91,853.51 590.55,860.02 591.25,862.3 591.65,863.81 592.09,865.18 592.4,853.2 592.5,864.54 593.01,867.5 593.17,864.12 593.87,866.12 594.27,864.34 594.79,870.01 595.49,870.24 596.06,870.72 596.5,863.1 596.76,868.78 597.28,873.53 597.71,870.06 598.3,873 598.43,875.98 598.82,876.4 598.91,876.9 599.32,876.38 600.01,875.17 600.41,877.08 601.03,876.62 601.74,878.28 601.8,875.9 602.17,876.88 602.87,878.4 603.35,877.81 603.98,879.36 604.48,879.29 604.9,879.46 605.34,879.74 605.78,879.66 605.91,880.4 606.16,878.11 606.61,880.72 607,876.5 607.31,880.72 608,880.63 608.68,881.65 609.21,881.98 609.9,880.5 610.49,882.46 610.5,880.6 610.99,880.87 611.53,882.64 611.71,883.3 611.96,882.95 612.37,882.54 612.94,883.19 613.61,883.11 614.13,883.23 614.6,876.5 614.6,882.13 615.1,883.38 615.65,883.5 616.33,883.8 616.4,884.1 617.04,884.15 617.72,884.37 618.17,884.51 618.65,884.66 619.1,884.8 619.82,885.02 619.9,885.9 620.01,884.2 620.51,885.05 620.99,885.06 621.39,885.06 621.87,885.07 622.26,885.07 622.76,885.07 623.15,885.08 623.7,885.08 624.23,885.08 624.69,885.09 625.12,885.09 625.76,885.1 626.21,885.1 626.62,885.1 627.17,885.11 627.63,885.11 628.24,885.12 628.82,885.12 629.23,885.12 629.75,885.13 630.15,885.13 630.65,885.14 631.32,885.14 631.71,885.14 632.25,885.15 632.72,885.15 633.38,885.16 633.82,885.16 634.4,885.17 634.96,885.17 635.51,885.17 636.13,885.18 636.8,885.18 637.42,885.19 638.06,885.19 638.73,885.2 639.28,885.2 639.84,885.21 640.23,885.21 640.69,885.22 641.11,885.22 641.76,885.22 642.18,885.23 642.63,885.23 643.21,885.24 643.77,885.24 644.19,885.24 644.81,885.25 645,885.3 663.6,885.3 664.2,884.3" fill="none" stroke="#1f77b4" stroke-width="3.3" stroke-linejoin="round" stroke-linecap="square"/>
<path d="M428.07 885.6H431.57M428.07 850.52H431.57M428.07 815.44H431.57M428.07 780.36H431.57M428.07 745.28H431.57M428.07 710.2H431.57M446.5 894.25V897.75M499.88 894.25V897.75M553.25 894.25V897.75M606.62 894.25V897.75M660 894.25V897.75" stroke="#000" stroke-width="0.8" fill="none"/>
<rect x="431.57" y="705.5" width="243.38" height="188.75" fill="none" stroke="#000" stroke-width="0.8"/>
<text transform="translate(415.05 891.9) scale(0.9904 1) matrix(1 0.0006 0 1 0 0)" font-size="15.70" fill="#000">0</text>
<text transform="translate(377.39 856.82) scale(1.0617 1) matrix(1 0.0006 0 1 0 0)" font-size="15.70" fill="#000">20000</text>
<text transform="translate(377.49 821.74) scale(1.0595 1) matrix(1 0.0006 0 1 0 0)" font-size="15.70" fill="#000">40000</text>
<text transform="translate(377.33 786.66) scale(1.0631 1) matrix(1 0.0006 0 1 0 0)" font-size="15.70" fill="#000">60000</text>
<text transform="translate(377.43 751.58) scale(1.0609 1) matrix(1 0.0006 0 1 0 0)" font-size="15.70" fill="#000">80000</text>
<text transform="translate(368.11 716.5) scale(1.0618 1) matrix(1 0.0006 0 1 0 0)" font-size="15.70" fill="#000">100000</text>
<text transform="translate(429.28 912.7) scale(1.1239 1) matrix(1 0.0006 0 1 0 0)" font-size="15.70" fill="#000">−5.0</text>
<text transform="translate(482.67 912.7) scale(1.1152 1) matrix(1 0.0006 0 1 0 0)" font-size="15.70" fill="#000">−2.5</text>
<text transform="translate(541.85 912.7) scale(1.0440 1) matrix(1 0.0006 0 1 0 0)" font-size="15.70" fill="#000">0.0</text>
<text transform="translate(595.16 912.7) scale(1.0349 1) matrix(1 0.0006 0 1 0 0)" font-size="15.70" fill="#000">2.5</text>
<text transform="translate(648.76 912.7) scale(1.0368 1) matrix(1 0.0006 0 1 0 0)" font-size="15.70" fill="#000">5.0</text>
<text transform="translate(641.79 736.9) scale(1.0838 1) matrix(1 0.0006 0 1 0 0)" font-size="29.85" fill="#0000ff">h</text>
<text transform="translate(17.25 140.77) rotate(-90) scale(0.9668 1) matrix(1 0.0006 0 1 0 0)" font-size="23.49" font-style="italic" fill="#000">Q</text>
<text transform="translate(21.2 122.57) rotate(-90) scale(1.1237 1) matrix(1 0.0006 0 1 0 0)" font-size="16.40" font-style="italic" fill="#000">ext</text>
<text transform="translate(17.25 368.07) rotate(-90) scale(0.9668 1) matrix(1 0.0006 0 1 0 0)" font-size="23.49" font-style="italic" fill="#000">Q</text>
<text transform="translate(21.2 349.79) rotate(-90) scale(1.0354 1) matrix(1 0.0006 0 1 0 0)" font-size="16.40" font-style="italic" fill="#000">sca</text>
<text transform="translate(17.7 581.3) rotate(-90) scale(0.9434 1) matrix(1 0.0006 0 1 0 0)" font-size="24.33" font-style="italic" fill="#000">ω</text>
<text transform="translate(19 807.87) rotate(-90) scale(1.0183 1) matrix(1 0.0006 0 1 0 0)" font-size="23.91" fill="#000">g</text>
</g>
</svg>
</body></html>
